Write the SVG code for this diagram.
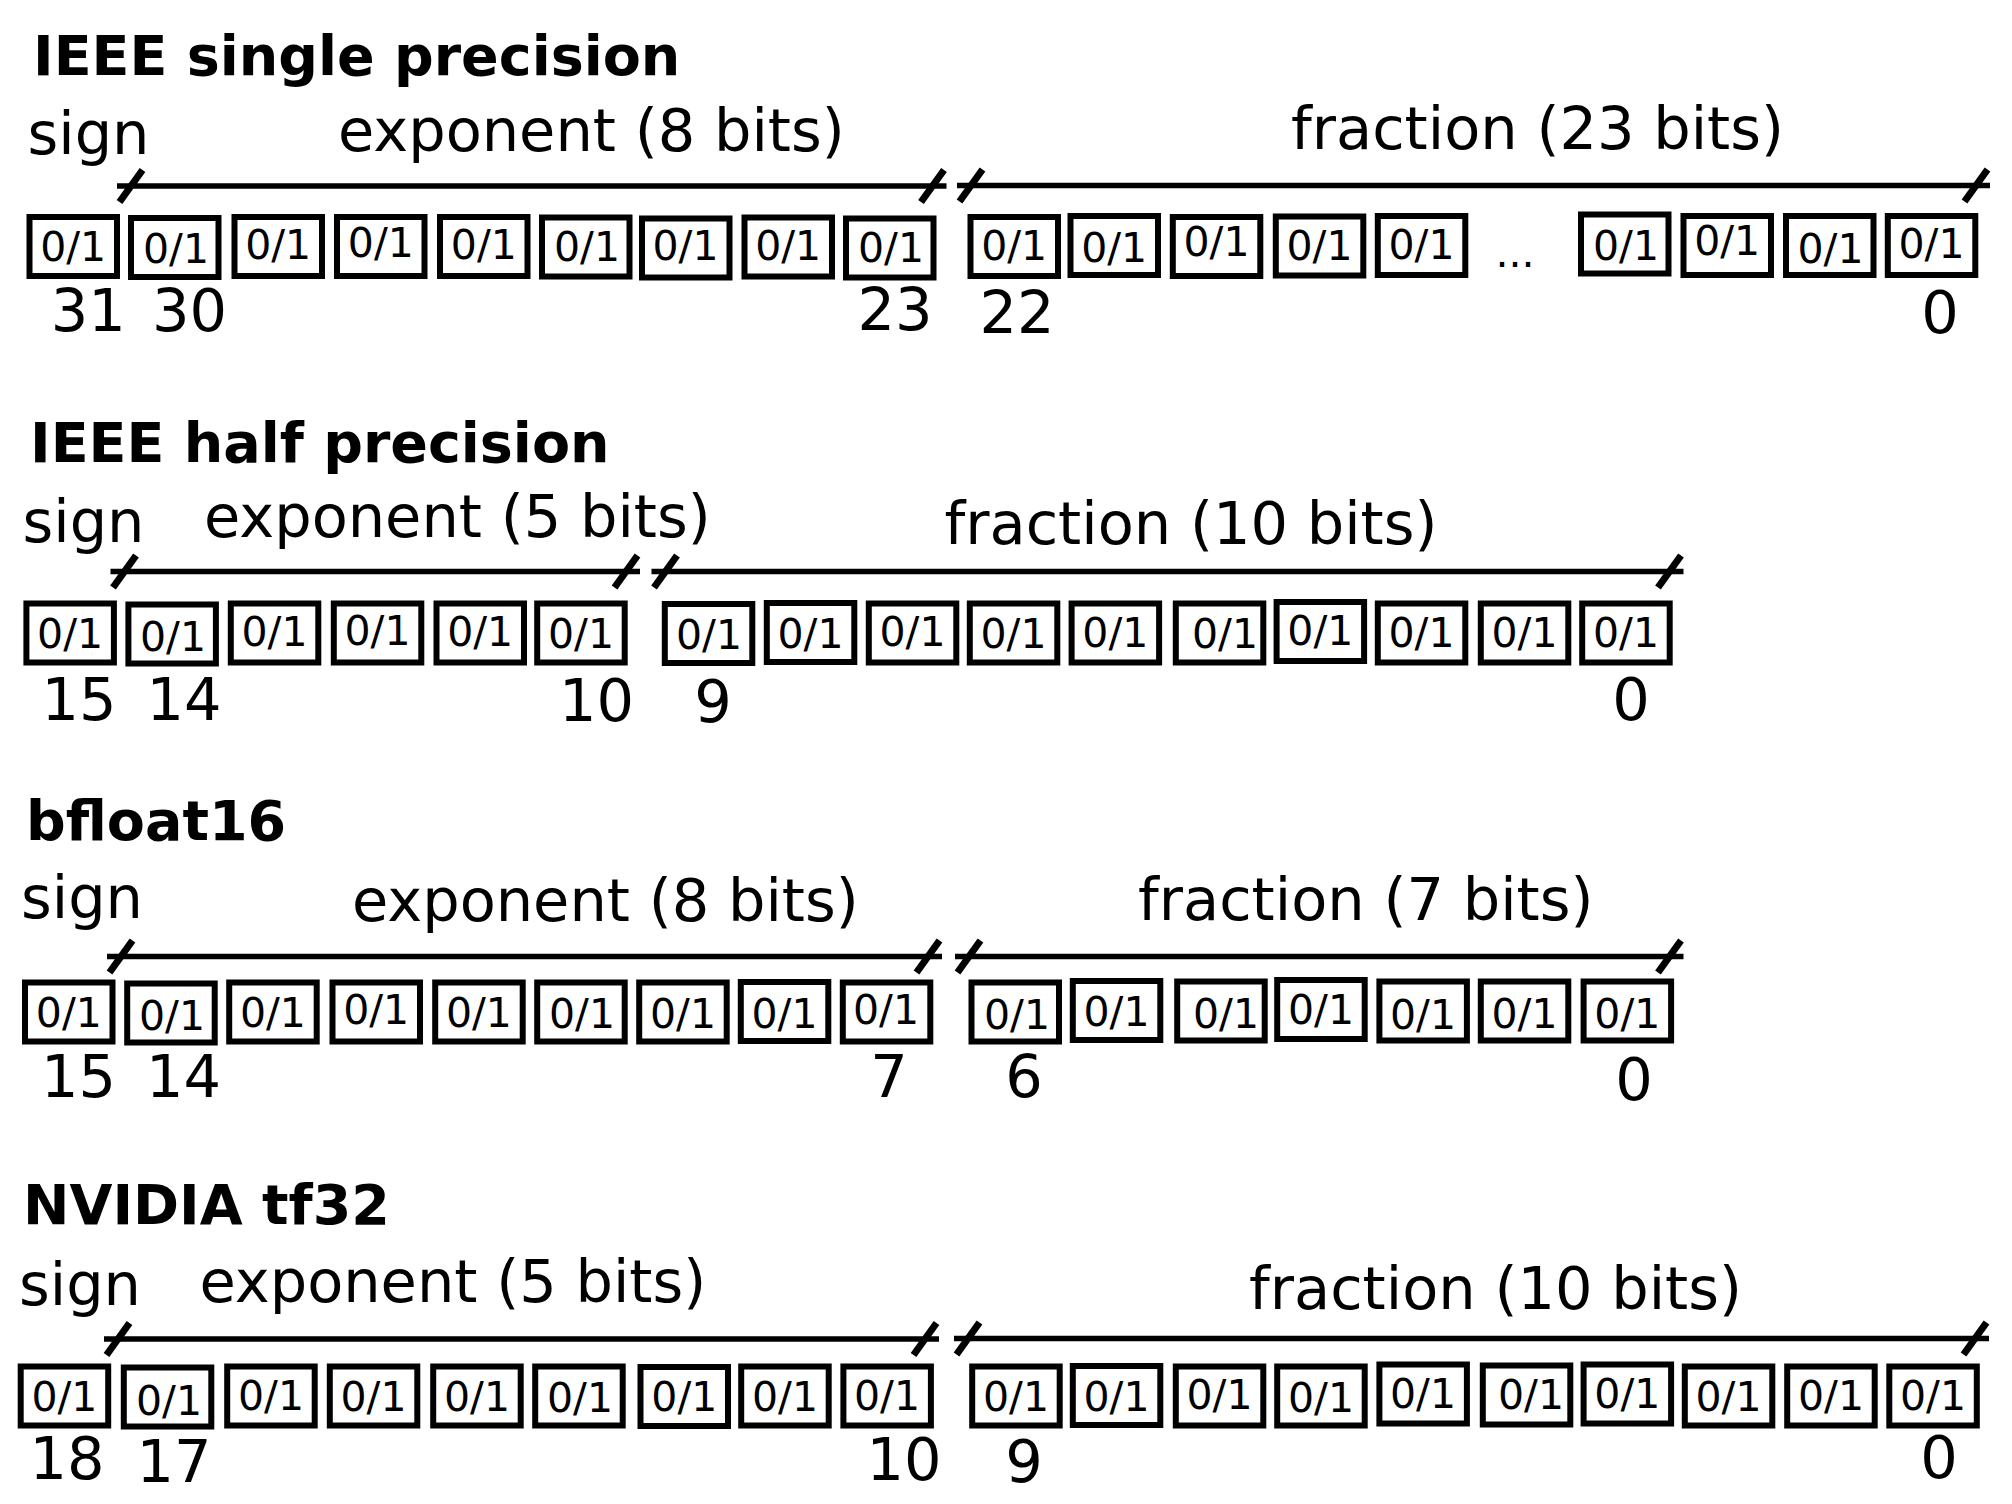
<svg xmlns="http://www.w3.org/2000/svg" width="2012" height="1504" viewBox="0 0 2012 1504">
<defs>
<style>
text{font-family:"DejaVu Sans","Liberation Sans",sans-serif;fill:#000}
.title{font-size:55.5px;font-weight:bold}
.lbl{font-size:59px}
.num{font-size:59px;text-anchor:middle}
.bit{font-size:41px;text-anchor:middle}
.box{fill:#fff;stroke:#000;stroke-width:6}
.br{fill:none;stroke:#000;stroke-width:5.5;marker-start:url(#tickS);marker-end:url(#tickE)}
</style>
<marker id="tickS" markerUnits="userSpaceOnUse" viewBox="-40 -24 80 48" refX="-14" refY="0" markerWidth="80" markerHeight="48" orient="0" overflow="visible">
<path d="M-11.5,16 L11.5,-16" stroke="#000" stroke-width="7" fill="none"/>
</marker>
<marker id="tickE" markerUnits="userSpaceOnUse" viewBox="-40 -24 80 48" refX="14" refY="0" markerWidth="80" markerHeight="48" orient="0" overflow="visible">
<path d="M-11.5,16 L11.5,-16" stroke="#000" stroke-width="7" fill="none"/>
</marker>
</defs>
<rect width="2012" height="1504" fill="#fff"/>

<g id="connectors">
<line class="br" x1="117" y1="186" x2="946.5" y2="186"/>
<line class="br" x1="957" y1="185.5" x2="1990" y2="185.5"/>
<line class="br" x1="110.5" y1="571.5" x2="640" y2="571.5"/>
<line class="br" x1="651.5" y1="571.5" x2="1683.5" y2="571.5"/>
<line class="br" x1="107" y1="956.5" x2="942" y2="956.5"/>
<line class="br" x1="955" y1="956.5" x2="1683.5" y2="956.5"/>
<line class="br" x1="104" y1="1339" x2="939" y2="1339"/>
<line class="br" x1="954" y1="1338.5" x2="1989" y2="1338.5"/>
</g>

<g id="single">
<text class="title" x="33" y="75">IEEE single precision</text>
<text class="lbl" x="27.5" y="154">sign</text>
<text class="lbl" x="338" y="151">exponent (8 bits)</text>
<text class="lbl" x="1291" y="149">fraction (23 bits)</text>
<g id="s31"><rect class="box" x="29.5" y="217" width="87.5" height="59"/><text class="bit" x="73.2" y="260.5">0/1</text></g>
<g id="s30"><rect class="box" x="131" y="218" width="87.5" height="59"/><text class="bit" x="176" y="263">0/1</text></g>
<g id="s29"><rect class="box" x="234.5" y="217" width="87.5" height="59"/><text class="bit" x="278.2" y="258.5">0/1</text></g>
<g id="s28"><rect class="box" x="337" y="217" width="87.5" height="59"/><text class="bit" x="380.8" y="256.5">0/1</text></g>
<g id="s27"><rect class="box" x="440" y="217" width="87.5" height="59"/><text class="bit" x="483.8" y="258.5">0/1</text></g>
<g id="s26"><rect class="box" x="542" y="217.5" width="87.5" height="59"/><text class="bit" x="587" y="261">0/1</text></g>
<g id="s25"><rect class="box" x="642" y="218.5" width="87.5" height="59"/><text class="bit" x="685.5" y="260">0/1</text></g>
<g id="s24"><rect class="box" x="744.5" y="217.5" width="87.5" height="59"/><text class="bit" x="788.2" y="260">0/1</text></g>
<g id="s23"><rect class="box" x="846" y="218.5" width="87.5" height="59"/><text class="bit" x="891" y="262">0/1</text></g>
<g id="s22"><rect class="box" x="970.5" y="217" width="87.5" height="59"/><text class="bit" x="1014.2" y="260">0/1</text></g>
<g id="s21"><rect class="box" x="1070.5" y="216" width="87.5" height="59"/><text class="bit" x="1114.2" y="261.5">0/1</text></g>
<g id="s20"><rect class="box" x="1172.8" y="217" width="87.5" height="59"/><text class="bit" x="1216.5" y="256">0/1</text></g>
<g id="s19"><rect class="box" x="1275.8" y="216.5" width="87.5" height="59"/><text class="bit" x="1319.5" y="259.5">0/1</text></g>
<g id="s18"><rect class="box" x="1377.8" y="216" width="87.5" height="59"/><text class="bit" x="1421.5" y="259">0/1</text></g>
<text class="bit" x="1515" y="266.5">...</text>
<g id="s3"><rect class="box" x="1581" y="214.5" width="87.5" height="59"/><text class="bit" x="1626" y="260">0/1</text></g>
<g id="s2"><rect class="box" x="1683.5" y="216" width="87.5" height="59"/><text class="bit" x="1727.2" y="255">0/1</text></g>
<g id="s1"><rect class="box" x="1786" y="216" width="87.5" height="59"/><text class="bit" x="1830.5" y="262.5">0/1</text></g>
<g id="s0"><rect class="box" x="1887.8" y="216" width="87.5" height="59"/><text class="bit" x="1931.5" y="257.5">0/1</text></g>
<text class="num" x="88.3" y="331">31</text>
<text class="num" x="189.5" y="331">30</text>
<text class="num" x="895" y="330">23</text>
<text class="num" x="1017" y="333">22</text>
<text class="num" x="1940" y="333">0</text>
</g>

<g id="half">
<text class="title" x="30" y="462">IEEE half precision</text>
<text class="lbl" x="22.5" y="541.5">sign</text>
<text class="lbl" x="204" y="536.5">exponent (5 bits)</text>
<text class="lbl" x="944.5" y="543.5">fraction (10 bits)</text>
<g id="h15"><rect class="box" x="26.4" y="603.5" width="87.5" height="59"/><text class="bit" x="70.1" y="648">0/1</text></g>
<g id="h14"><rect class="box" x="128.4" y="604.5" width="87.5" height="59"/><text class="bit" x="173" y="650.5">0/1</text></g>
<g id="h13"><rect class="box" x="230.8" y="603.5" width="87.5" height="59"/><text class="bit" x="274.5" y="645.5">0/1</text></g>
<g id="h12"><rect class="box" x="333.8" y="603.5" width="87.5" height="59"/><text class="bit" x="377.5" y="645">0/1</text></g>
<g id="h11"><rect class="box" x="436.5" y="603.5" width="87.5" height="59"/><text class="bit" x="480.2" y="645.5">0/1</text></g>
<g id="h10"><rect class="box" x="537.2" y="603.5" width="87.5" height="59"/><text class="bit" x="581" y="648">0/1</text></g>
<g id="h9"><rect class="box" x="664.8" y="604" width="87.5" height="59"/><text class="bit" x="709" y="648.5">0/1</text></g>
<g id="h8"><rect class="box" x="766.8" y="603" width="87.5" height="59"/><text class="bit" x="810.5" y="648">0/1</text></g>
<g id="h7"><rect class="box" x="868.8" y="603.5" width="87.5" height="59"/><text class="bit" x="912.5" y="646">0/1</text></g>
<g id="h6"><rect class="box" x="969.8" y="603.5" width="87.5" height="59"/><text class="bit" x="1013.5" y="648">0/1</text></g>
<g id="h5"><rect class="box" x="1071.6" y="603.5" width="87.5" height="59"/><text class="bit" x="1115.3" y="646.5">0/1</text></g>
<g id="h4"><rect class="box" x="1175.8" y="603.5" width="87.5" height="59"/><text class="bit" x="1225" y="648">0/1</text></g>
<g id="h3"><rect class="box" x="1276.6" y="602" width="87.5" height="59"/><text class="bit" x="1320.3" y="645">0/1</text></g>
<g id="h2"><rect class="box" x="1377.8" y="603.5" width="87.5" height="59"/><text class="bit" x="1421.5" y="647">0/1</text></g>
<g id="h1"><rect class="box" x="1480.8" y="603.5" width="87.5" height="59"/><text class="bit" x="1524.5" y="647">0/1</text></g>
<g id="h0"><rect class="box" x="1582.2" y="603.5" width="87.5" height="59"/><text class="bit" x="1626" y="646.5">0/1</text></g>
<text class="num" x="79" y="720">15</text>
<text class="num" x="184" y="720">14</text>
<text class="num" x="596.5" y="721">10</text>
<text class="num" x="713" y="722">9</text>
<text class="num" x="1631" y="720">0</text>
</g>

<g id="bfloat16">
<text class="title" x="26" y="840">bfloat16</text>
<text class="lbl" x="21" y="917.5">sign</text>
<text class="lbl" x="352" y="921">exponent (8 bits)</text>
<text class="lbl" x="1138" y="920">fraction (7 bits)</text>
<g id="b15"><rect class="box" x="25" y="982.5" width="87.5" height="59"/><text class="bit" x="68.8" y="1027">0/1</text></g>
<g id="b14"><rect class="box" x="127.2" y="983.5" width="87.5" height="59"/><text class="bit" x="172" y="1030">0/1</text></g>
<g id="b13"><rect class="box" x="229.2" y="982.5" width="87.5" height="59"/><text class="bit" x="272.9" y="1026.5">0/1</text></g>
<g id="b12"><rect class="box" x="332.5" y="982.5" width="87.5" height="59"/><text class="bit" x="376.2" y="1024">0/1</text></g>
<g id="b11"><rect class="box" x="435.2" y="982.5" width="87.5" height="59"/><text class="bit" x="478.9" y="1026.5">0/1</text></g>
<g id="b10"><rect class="box" x="537.2" y="982.5" width="87.5" height="59"/><text class="bit" x="582" y="1028">0/1</text></g>
<g id="b9"><rect class="box" x="639.2" y="982.5" width="87.5" height="59"/><text class="bit" x="683" y="1028">0/1</text></g>
<g id="b8"><rect class="box" x="740.8" y="982" width="87.5" height="59"/><text class="bit" x="784.5" y="1028">0/1</text></g>
<g id="b7"><rect class="box" x="842.8" y="982.5" width="87.5" height="59"/><text class="bit" x="886" y="1024">0/1</text></g>
<g id="b6"><rect class="box" x="971.5" y="982.5" width="87.5" height="59"/><text class="bit" x="1017" y="1029">0/1</text></g>
<g id="b5"><rect class="box" x="1072.8" y="981" width="87.5" height="59"/><text class="bit" x="1116.5" y="1025.5">0/1</text></g>
<g id="b4"><rect class="box" x="1177.2" y="981.5" width="87.5" height="59"/><text class="bit" x="1226" y="1028">0/1</text></g>
<g id="b3"><rect class="box" x="1277.2" y="980" width="87.5" height="59"/><text class="bit" x="1321" y="1024">0/1</text></g>
<g id="b2"><rect class="box" x="1379.4" y="981.5" width="87.5" height="59"/><text class="bit" x="1423" y="1029">0/1</text></g>
<g id="b1"><rect class="box" x="1480.8" y="981.5" width="87.5" height="59"/><text class="bit" x="1524.5" y="1027.5">0/1</text></g>
<g id="b0"><rect class="box" x="1583.6" y="981.5" width="87.5" height="59"/><text class="bit" x="1627.3" y="1027.5">0/1</text></g>
<text class="num" x="78.5" y="1097">15</text>
<text class="num" x="183.5" y="1097">14</text>
<text class="num" x="889" y="1097">7</text>
<text class="num" x="1024" y="1097">6</text>
<text class="num" x="1634" y="1100">0</text>
</g>

<g id="tf32">
<text class="title" x="23" y="1224">NVIDIA tf32</text>
<text class="lbl" x="19" y="1305">sign</text>
<text class="lbl" x="199.5" y="1301.5">exponent (5 bits)</text>
<text class="lbl" x="1249" y="1309">fraction (10 bits)</text>
<g id="t18"><rect class="box" x="20.7" y="1366.5" width="87.5" height="59"/><text class="bit" x="64.4" y="1411">0/1</text></g>
<g id="t17"><rect class="box" x="123.8" y="1367.5" width="87.5" height="59"/><text class="bit" x="169" y="1414.5">0/1</text></g>
<g id="t16"><rect class="box" x="227.2" y="1366.5" width="87.5" height="59"/><text class="bit" x="271" y="1410">0/1</text></g>
<g id="t15"><rect class="box" x="329.8" y="1366.5" width="87.5" height="59"/><text class="bit" x="373.5" y="1410.5">0/1</text></g>
<g id="t14"><rect class="box" x="433.2" y="1366.5" width="87.5" height="59"/><text class="bit" x="477" y="1410.5">0/1</text></g>
<g id="t13"><rect class="box" x="535.2" y="1366.5" width="87.5" height="59"/><text class="bit" x="580" y="1412">0/1</text></g>
<g id="t12"><rect class="box" x="640.5" y="1367" width="87.5" height="59"/><text class="bit" x="684.3" y="1411">0/1</text></g>
<g id="t11"><rect class="box" x="741.2" y="1366.5" width="87.5" height="59"/><text class="bit" x="785" y="1411">0/1</text></g>
<g id="t10"><rect class="box" x="843.4" y="1366.5" width="87.5" height="59"/><text class="bit" x="887" y="1410">0/1</text></g>
<g id="t9"><rect class="box" x="972.2" y="1366.5" width="87.5" height="59"/><text class="bit" x="1016" y="1410.5">0/1</text></g>
<g id="t8"><rect class="box" x="1072.8" y="1366" width="87.5" height="59"/><text class="bit" x="1116.5" y="1410.5">0/1</text></g>
<g id="t7"><rect class="box" x="1175.8" y="1366.5" width="87.5" height="59"/><text class="bit" x="1219.5" y="1409">0/1</text></g>
<g id="t6"><rect class="box" x="1277.2" y="1366.5" width="87.5" height="59"/><text class="bit" x="1321" y="1412">0/1</text></g>
<g id="t5"><rect class="box" x="1379.4" y="1364.5" width="87.5" height="59"/><text class="bit" x="1423" y="1407.5">0/1</text></g>
<g id="t4"><rect class="box" x="1482.8" y="1365.5" width="87.5" height="59"/><text class="bit" x="1531" y="1409">0/1</text></g>
<g id="t3"><rect class="box" x="1583.6" y="1364.5" width="87.5" height="59"/><text class="bit" x="1627.3" y="1407.5">0/1</text></g>
<g id="t2"><rect class="box" x="1684.8" y="1366.5" width="87.5" height="59"/><text class="bit" x="1728.5" y="1411">0/1</text></g>
<g id="t1"><rect class="box" x="1787.2" y="1366.5" width="87.5" height="59"/><text class="bit" x="1831" y="1409.5">0/1</text></g>
<g id="t0"><rect class="box" x="1889.3" y="1366.5" width="87.5" height="59"/><text class="bit" x="1933" y="1409.5">0/1</text></g>
<text class="num" x="67" y="1478.5">18</text>
<text class="num" x="174" y="1481.5">17</text>
<text class="num" x="904" y="1480">10</text>
<text class="num" x="1024" y="1481.5">9</text>
<text class="num" x="1939" y="1478">0</text>
</g>
</svg>
